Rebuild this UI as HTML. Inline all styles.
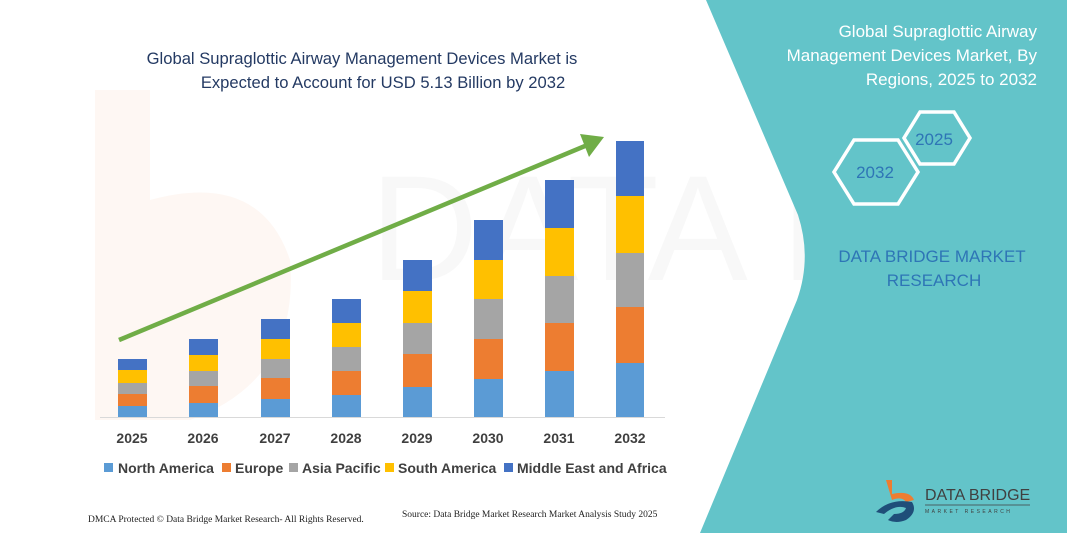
<!DOCTYPE html>
<html><head><meta charset="utf-8"><style>
html,body{margin:0;padding:0;background:#fff;}
svg{display:block;}
</style></head><body>
<svg width="1067" height="533" viewBox="0 0 1067 533" xmlns="http://www.w3.org/2000/svg" font-family="Liberation Sans, sans-serif">
<rect width="1067" height="533" fill="#fff"/>
<!-- faint watermark -->
<path d="M95 90 L150 90 L150 200 Q260 170 290 260 Q300 380 190 420 L95 420 Z" fill="#fef7f3"/>
<text x="370" y="280" font-size="150" fill="#f8f8f8" font-family="Liberation Sans Narrow, Liberation Sans, sans-serif">DATA BRIDGE</text>
<!-- teal panel -->
<path d="M706 0 L1067 0 L1067 533 L700 533 L797 300 Q812 258 798 215 Z" fill="#63c4c9"/>
<!-- title left -->
<text x="362" y="64" font-size="16.6" fill="#243a63" text-anchor="middle">Global Supraglottic Airway Management Devices Market is</text>
<text x="383" y="88" font-size="16.6" fill="#243a63" text-anchor="middle">Expected to Account for USD 5.13 Billion by 2032</text>
<!-- baseline -->
<line x1="100" y1="417.5" x2="665" y2="417.5" stroke="#d9d9d9" stroke-width="1"/>
<g>
<rect x="118" y="406" width="29" height="11" fill="#5b9bd5"/><rect x="118" y="394" width="29" height="12" fill="#ed7d31"/><rect x="118" y="383" width="29" height="11" fill="#a5a5a5"/><rect x="118" y="370" width="29" height="13" fill="#ffc000"/><rect x="118" y="359" width="29" height="11" fill="#4472c4"/>
<rect x="189" y="403" width="29" height="14" fill="#5b9bd5"/><rect x="189" y="386" width="29" height="17" fill="#ed7d31"/><rect x="189" y="371" width="29" height="15" fill="#a5a5a5"/><rect x="189" y="355" width="29" height="16" fill="#ffc000"/><rect x="189" y="339" width="29" height="16" fill="#4472c4"/>
<rect x="261" y="399" width="29" height="18" fill="#5b9bd5"/><rect x="261" y="378" width="29" height="21" fill="#ed7d31"/><rect x="261" y="359" width="29" height="19" fill="#a5a5a5"/><rect x="261" y="339" width="29" height="20" fill="#ffc000"/><rect x="261" y="319" width="29" height="20" fill="#4472c4"/>
<rect x="332" y="395" width="29" height="22" fill="#5b9bd5"/><rect x="332" y="371" width="29" height="24" fill="#ed7d31"/><rect x="332" y="347" width="29" height="24" fill="#a5a5a5"/><rect x="332" y="323" width="29" height="24" fill="#ffc000"/><rect x="332" y="299" width="29" height="24" fill="#4472c4"/>
<rect x="403" y="387" width="29" height="30" fill="#5b9bd5"/><rect x="403" y="354" width="29" height="33" fill="#ed7d31"/><rect x="403" y="323" width="29" height="31" fill="#a5a5a5"/><rect x="403" y="291" width="29" height="32" fill="#ffc000"/><rect x="403" y="260" width="29" height="31" fill="#4472c4"/>
<rect x="474" y="379" width="29" height="38" fill="#5b9bd5"/><rect x="474" y="339" width="29" height="40" fill="#ed7d31"/><rect x="474" y="299" width="29" height="40" fill="#a5a5a5"/><rect x="474" y="260" width="29" height="39" fill="#ffc000"/><rect x="474" y="220" width="29" height="40" fill="#4472c4"/>
<rect x="545" y="371" width="29" height="46" fill="#5b9bd5"/><rect x="545" y="323" width="29" height="48" fill="#ed7d31"/><rect x="545" y="276" width="29" height="47" fill="#a5a5a5"/><rect x="545" y="228" width="29" height="48" fill="#ffc000"/><rect x="545" y="180" width="29" height="48" fill="#4472c4"/>
<rect x="616" y="363" width="28" height="54" fill="#5b9bd5"/><rect x="616" y="307" width="28" height="56" fill="#ed7d31"/><rect x="616" y="253" width="28" height="54" fill="#a5a5a5"/><rect x="616" y="196" width="28" height="57" fill="#ffc000"/><rect x="616" y="141" width="28" height="55" fill="#4472c4"/>
</g>
<!-- arrow -->
<line x1="119" y1="340" x2="585" y2="146" stroke="#70ad47" stroke-width="4.5"/>
<polygon points="604,137 580,134 589,157" fill="#70ad47"/>
<!-- years -->
<g font-size="14" font-weight="bold" fill="#404040" text-anchor="middle">
<text x="132" y="443">2025</text><text x="203" y="443">2026</text><text x="275" y="443">2027</text><text x="346" y="443">2028</text><text x="417" y="443">2029</text><text x="488" y="443">2030</text><text x="559" y="443">2031</text><text x="630" y="443">2032</text>
</g>
<!-- legend -->
<g font-size="14" font-weight="bold" fill="#404040">
<rect x="104" y="463" width="9" height="9" fill="#5b9bd5"/><text x="118" y="473">North America</text>
<rect x="222" y="463" width="9" height="9" fill="#ed7d31"/><text x="235" y="473">Europe</text>
<rect x="289" y="463" width="9" height="9" fill="#a5a5a5"/><text x="302" y="473">Asia Pacific</text>
<rect x="385" y="463" width="9" height="9" fill="#ffc000"/><text x="398" y="473">South America</text>
<rect x="504" y="463" width="9" height="9" fill="#4472c4"/><text x="517" y="473">Middle East and Africa</text>
</g>
<!-- footer -->
<text x="88" y="522" font-size="9.5" font-family="Liberation Serif, serif" fill="#222">DMCA Protected © Data Bridge Market Research-  All Rights Reserved.</text>
<text x="402" y="517" font-size="9.5" font-family="Liberation Serif, serif" fill="#222">Source: Data Bridge Market Research  Market Analysis Study 2025</text>
<!-- right panel text -->
<g font-size="17" fill="#fff" text-anchor="end">
<text x="1037" y="37">Global Supraglottic Airway</text>
<text x="1037" y="61">Management Devices Market, By</text>
<text x="1037" y="85">Regions, 2025 to 2032</text>
</g>
<polygon points="920,112 954,112 970,138 954,164 920,164 904,138" fill="none" stroke="#fff" stroke-width="3.5"/>
<text x="934" y="145" font-size="17" fill="#2e75b6" text-anchor="middle">2025</text>
<polygon points="854,140 898,140 918,172 898,204 854,204 834,172" fill="none" stroke="#fff" stroke-width="3.5"/>
<text x="875" y="178" font-size="17" fill="#2e75b6" text-anchor="middle">2032</text>
<g font-size="17" fill="#2e75b6" text-anchor="middle">
<text x="932" y="262">DATA BRIDGE MARKET</text>
<text x="934" y="286">RESEARCH</text>
</g>
<!-- logo -->
<path d="M886 480 L892 480 L892 494 Q910 490 914 500 L906 502 Q902 496 892 500 Z" fill="#ed7d31"/>
<path d="M876 512 Q890 498 912 502 Q918 512 906 520 Q896 524 888 520 L894 514 Q904 514 906 508 Q896 504 884 514 Z" fill="#1f4e79"/>
<text x="925" y="500" font-size="16" fill="#404040" font-family="Liberation Sans Narrow, Liberation Sans, sans-serif">DATA BRIDGE</text>
<line x1="925" y1="505" x2="1030" y2="505" stroke="#404040" stroke-width="0.7"/>
<text x="925" y="513" font-size="5" fill="#404040" letter-spacing="2.5">MARKET RESEARCH</text>
</svg>
</body></html>
